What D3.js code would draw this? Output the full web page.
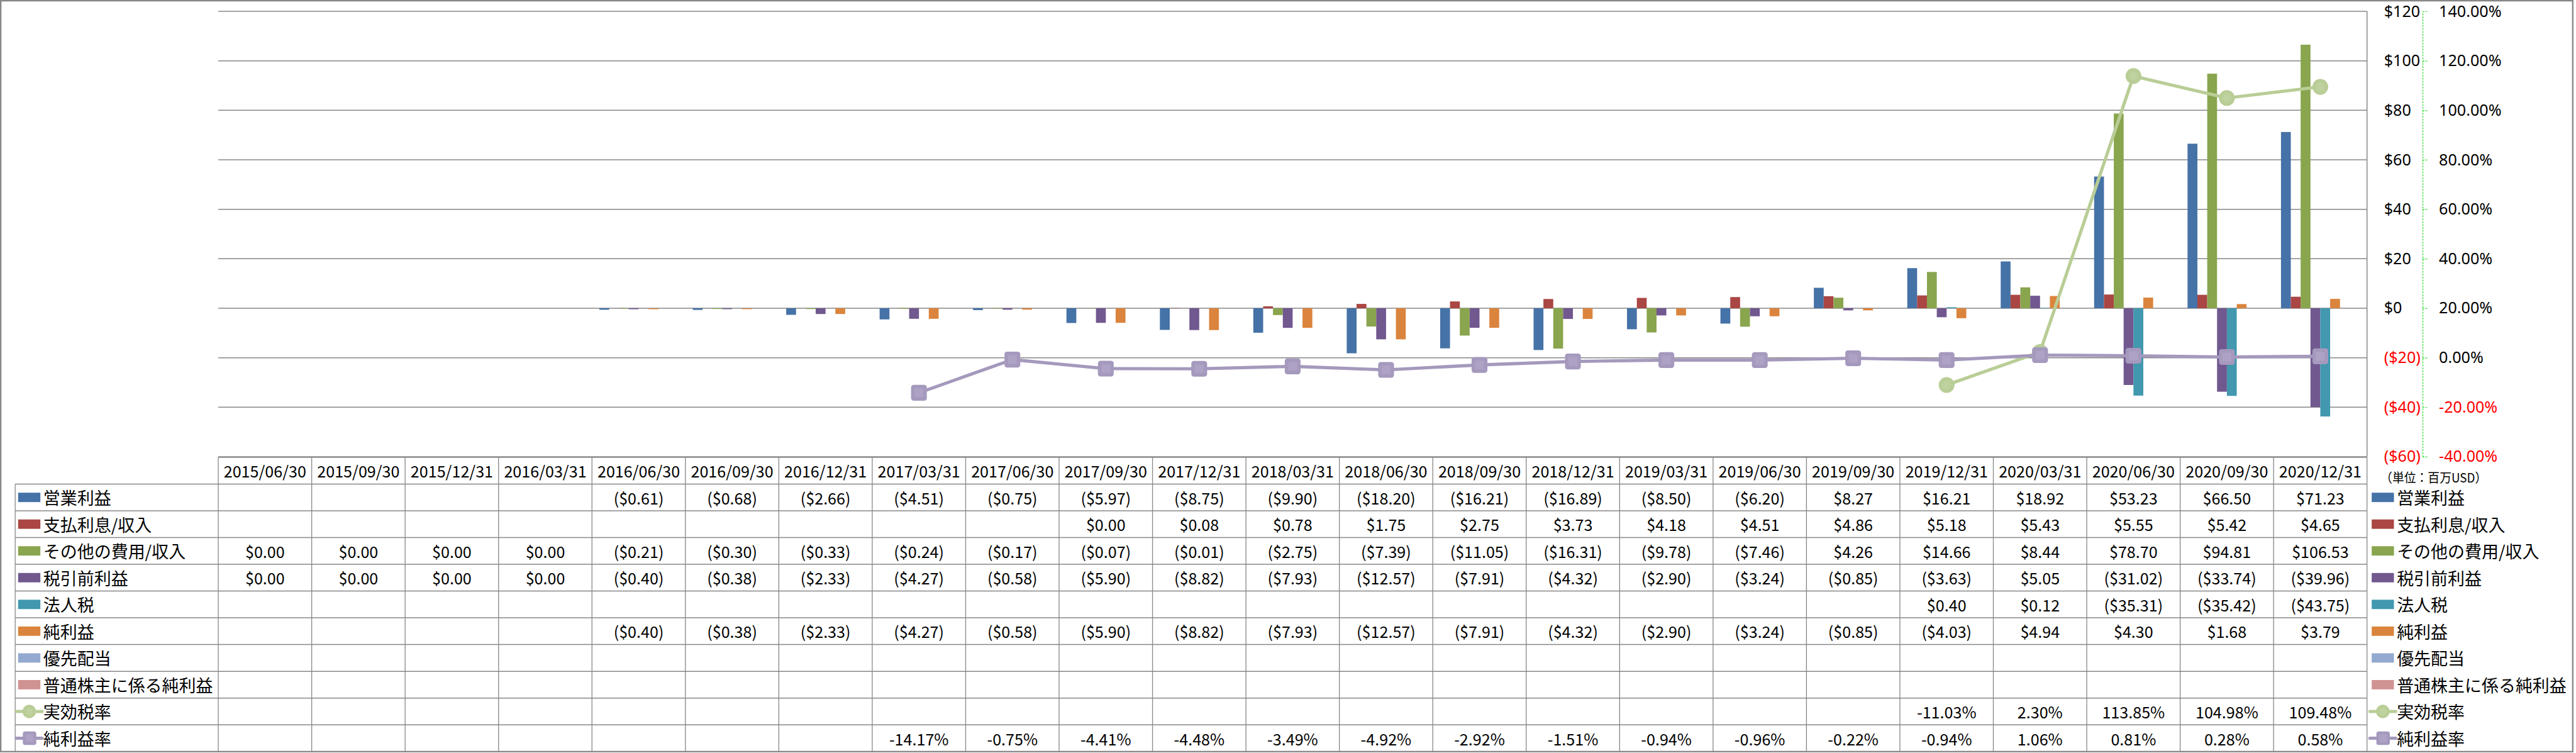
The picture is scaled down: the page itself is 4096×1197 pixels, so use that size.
<!DOCTYPE html>
<html>
<head>
<meta charset="utf-8">
<script src="https://cdn.jsdelivr.net/npm/d3@7"></script>
<style>
  html, body { margin: 0; padding: 0; background: #ffffff; }
  svg { display: block; }
</style>
</head>
<body>
<svg id="chart" width="4096" height="1197"></svg>
<script>
// ---------------- DATA ----------------
const categories = [
  "2015/06/30","2015/09/30","2015/12/31","2016/03/31","2016/06/30","2016/09/30","2016/12/31",
  "2017/03/31","2017/06/30","2017/09/30","2017/12/31","2018/03/31","2018/06/30","2018/09/30",
  "2018/12/31","2019/03/31","2019/06/30","2019/09/30","2019/12/31","2020/03/31","2020/06/30",
  "2020/09/30","2020/12/31"
];

const barSeriesNames = ["営業利益","支払利息/収入","その他の費用/収入","税引前利益","法人税","純利益","優先配当","普通株主に係る純利益"];
const lineSeriesNames = ["実効税率","純利益率"];

const operatingIncome = [null,null,null,null,-0.61,-0.68,-2.66,-4.51,-0.75,-5.97,-8.75,-9.90,-18.20,-16.21,-16.89,-8.50,-6.20,8.27,16.21,18.92,53.23,66.50,71.23];
const interestExpense = [null,null,null,null,null,null,null,null,null,0.00,0.08,0.78,1.75,2.75,3.73,4.18,4.51,4.86,5.18,5.43,5.55,5.42,4.65];
const otherExpense    = [0.00,0.00,0.00,0.00,-0.21,-0.30,-0.33,-0.24,-0.17,-0.07,-0.01,-2.75,-7.39,-11.05,-16.31,-9.78,-7.46,4.26,14.66,8.44,78.70,94.81,106.53];
const pretaxIncome    = [0.00,0.00,0.00,0.00,-0.40,-0.38,-2.33,-4.27,-0.58,-5.90,-8.82,-7.93,-12.57,-7.91,-4.32,-2.90,-3.24,-0.85,-3.63,5.05,-31.02,-33.74,-39.96];
const incomeTax       = [null,null,null,null,null,null,null,null,null,null,null,null,null,null,null,null,null,null,0.40,0.12,-35.31,-35.42,-43.75];
const netIncome       = [null,null,null,null,-0.40,-0.38,-2.33,-4.27,-0.58,-5.90,-8.82,-7.93,-12.57,-7.91,-4.32,-2.90,-3.24,-0.85,-4.03,4.94,4.30,1.68,3.79];
const preferredDiv    = [null,null,null,null,null,null,null,null,null,null,null,null,null,null,null,null,null,null,null,null,null,null,null];
const netToCommon     = [null,null,null,null,null,null,null,null,null,null,null,null,null,null,null,null,null,null,null,null,null,null,null];

const effectiveTaxRate = [null,null,null,null,null,null,null,null,null,null,null,null,null,null,null,null,null,null,-11.03,2.30,113.85,104.98,109.48];
const netMargin        = [null,null,null,null,null,null,null,-14.17,-0.75,-4.41,-4.48,-3.49,-4.92,-2.92,-1.51,-0.94,-0.96,-0.22,-0.94,1.06,0.81,0.28,0.58];

const dollarTicks = [-60,-40,-20,0,20,40,60,80,100,120];
const pctTicks    = [-40,-20,0,20,40,60,80,100,120,140];
const unitLabel   = "（単位：百万USD）";

const barColors  = ["#4572A7","#AA4643","#89A54E","#71588F","#4198AF","#DB843D","#93A9CF","#D19392"];
const lineColors = ["#B9CD96","#A599BD"];
const lineInner  = ["#BFD2A0","#AEA2C5"];

const barData  = [operatingIncome, interestExpense, otherExpense, pretaxIncome, incomeTax, netIncome, preferredDiv, netToCommon];
const lineData = [effectiveTaxRate, netMargin];

// ---------------- LAYOUT (reference units, scaled by 0.93) ----------------
const S = 0.93;
const W = 4400, H = 1286;
const plotL = 373.2, plotR = 4047, plotT = 19.4, plotB = 780.6;
const tableTop = 781.7, headerH = 45.6, rowH = 45.74;
const labelColL = 26;
const gridColor = "#878787";
const fontCJK = "'Noto Sans CJK JP', 'Noto Sans', sans-serif";
const fontAxis = "'Noto Sans', 'DejaVu Sans', sans-serif";
const cellFont = 27, labelFont = 29, axisFont = 27;

const svg = d3.select("#chart");
svg.append("rect").attr("width", 4096).attr("height", 1197).attr("fill", "#fff");
const root = svg.append("g").attr("transform", `scale(${S})`);

// outer border
root.append("rect").attr("x", 1.25).attr("y", 1.25).attr("width", W - 2.5).attr("height", H - 2.5)
  .attr("fill", "#fff").attr("stroke", gridColor).attr("stroke-width", 2.5);

// scales
const x = d3.scaleBand().domain(categories).range([plotL, plotR]).paddingInner(0).paddingOuter(0);
const band = x.bandwidth();
const barW = band / (barSeriesNames.length + 1.5);
const gapOff = band * 0.75 / (barSeriesNames.length + 1.5);
const xs = d3.scaleBand().domain(barSeriesNames).range([gapOff, gapOff + barW * barSeriesNames.length]);
const y  = d3.scaleLinear().domain([-60, 120]).range([plotB, plotT]);
const y2 = d3.scaleLinear().domain([-40, 140]).range([plotB, plotT]);

// gridlines
root.append("g").selectAll("line").data(dollarTicks).join("line")
  .attr("x1", plotL).attr("x2", plotR)
  .attr("y1", d => y(d)).attr("y2", d => y(d))
  .attr("stroke", gridColor).attr("stroke-width", 1.6);
// plot right border
root.append("line").attr("x1", plotR).attr("x2", plotR).attr("y1", plotT).attr("y2", plotB)
  .attr("stroke", gridColor).attr("stroke-width", 1.6);

// bars
const barG = root.append("g");
barData.forEach((vals, i) => {
  barG.append("g").selectAll("rect")
    .data(vals.map((v, j) => ({ v, c: categories[j] })).filter(d => d.v !== null && d.v !== 0))
    .join("rect")
    .attr("x", d => x(d.c) + xs(barSeriesNames[i]))
    .attr("width", xs.bandwidth())
    .attr("y", d => Math.min(y(d.v), y(0)))
    .attr("height", d => Math.abs(y(d.v) - y(0)))
    .attr("fill", barColors[i]);
});

// lines
const lineG = root.append("g");
lineData.forEach((vals, i) => {
  const pts = vals.map((v, j) => ({ v, c: categories[j] }));
  const line = d3.line().defined(d => d.v !== null)
    .x(d => x(d.c) + band / 2).y(d => y2(d.v));
  lineG.append("path").attr("d", line(pts)).attr("fill", "none")
    .attr("stroke", lineColors[i]).attr("stroke-width", 5.5).attr("stroke-linejoin", "round");
  const valid = pts.filter(d => d.v !== null);
  const mg = lineG.append("g");
  if (i === 0) {
    mg.selectAll("circle.o").data(valid).join("circle")
      .attr("cx", d => x(d.c) + band / 2).attr("cy", d => y2(d.v)).attr("r", 13.5)
      .attr("fill", lineColors[i]);
    mg.selectAll("circle.i").data(valid).join("circle")
      .attr("cx", d => x(d.c) + band / 2).attr("cy", d => y2(d.v)).attr("r", 7)
      .attr("fill", lineInner[i]);
  } else {
    mg.selectAll("rect.o").data(valid).join("rect")
      .attr("x", d => x(d.c) + band / 2 - 13.5).attr("y", d => y2(d.v) - 13.5)
      .attr("width", 27).attr("height", 27).attr("rx", 4.5)
      .attr("fill", lineColors[i]);
    mg.selectAll("rect.i").data(valid).join("rect")
      .attr("x", d => x(d.c) + band / 2 - 7.5).attr("y", d => y2(d.v) - 7.5)
      .attr("width", 15).attr("height", 15)
      .attr("fill", lineInner[i]);
  }
});

// primary axis labels (dollars)
const fmtDollar = v => v < 0 ? `($${-v})` : `$${v}`;
const axL = root.append("g").attr("transform", `translate(4073,0)`)
  .call(d3.axisRight(y).tickValues(dollarTicks).tickFormat(fmtDollar).tickSize(0).tickPadding(3));
axL.select(".domain").remove();
axL.selectAll("text").attr("font-family", fontAxis).attr("font-size", axisFont)
  .attr("fill", d => d < 0 ? "#FF0000" : "#000");

// secondary axis (percent)
const fmtPct = v => `${v.toFixed(2)}%`;
const axR = root.append("g").attr("transform", `translate(4142,0)`)
  .call(d3.axisRight(y2).tickValues(pctTicks).tickFormat(fmtPct).tickSizeInner(10).tickSizeOuter(0).tickPadding(18));
axR.select(".domain").attr("stroke", "#22DD22").attr("stroke-width", 1.3).attr("stroke-dasharray", "3,2");
axR.selectAll(".tick line").attr("stroke", "#22DD22").attr("stroke-width", 1.3).attr("stroke-dasharray", "3,2");
axR.selectAll("text").attr("font-family", fontAxis).attr("font-size", axisFont)
  .attr("fill", d => d < 0 ? "#FF0000" : "#000");

// ---------------- DATA TABLE ----------------
const tbl = root.append("g");
const rowNames = barSeriesNames.concat(lineSeriesNames);
const rowVals  = barData.concat(lineData);
const nRows = rowNames.length;
const rowY = i => tableTop + headerH + i * rowH;
const tableBottom = rowY(nRows);

// horizontal lines
tbl.append("line").attr("x1", plotL).attr("x2", plotR).attr("y1", tableTop).attr("y2", tableTop)
  .attr("stroke", gridColor).attr("stroke-width", 1.6);
tbl.append("g").selectAll("line").data(d3.range(nRows + 1)).join("line")
  .attr("x1", labelColL).attr("x2", plotR)
  .attr("y1", d => rowY(d)).attr("y2", d => rowY(d))
  .attr("stroke", gridColor).attr("stroke-width", 1.6);
// vertical lines
tbl.append("g").selectAll("line").data(categories.concat(["__end"])).join("line")
  .attr("x1", d => d === "__end" ? plotR : x(d)).attr("x2", d => d === "__end" ? plotR : x(d))
  .attr("y1", tableTop).attr("y2", tableBottom)
  .attr("stroke", gridColor).attr("stroke-width", 1.4);
tbl.append("line").attr("x1", labelColL).attr("x2", labelColL).attr("y1", rowY(0)).attr("y2", tableBottom)
  .attr("stroke", gridColor).attr("stroke-width", 1.4);

// header
tbl.append("g").selectAll("text").data(categories).join("text")
  .attr("x", d => x(d) + band / 2).attr("y", tableTop + headerH / 2)
  .attr("text-anchor", "middle").attr("dominant-baseline", "central")
  .attr("font-family", fontCJK).attr("font-size", cellFont).attr("fill", "#000")
  .text(d => d);

// cells
const fmtCur = v => v < 0 ? `($${(-v).toFixed(2)})` : `$${v.toFixed(2)}`;
rowVals.forEach((vals, r) => {
  const isPct = r >= barSeriesNames.length;
  tbl.append("g").selectAll("text")
    .data(vals.map((v, j) => ({ v, c: categories[j] })).filter(d => d.v !== null))
    .join("text")
    .attr("x", d => x(d.c) + band / 2).attr("y", rowY(r) + rowH / 2)
    .attr("text-anchor", "middle").attr("dominant-baseline", "central")
    .attr("font-family", fontCJK).attr("font-size", cellFont).attr("fill", "#000")
    .text(d => isPct ? `${d.v.toFixed(2)}%` : fmtCur(d.v));
});

// legend keys (table left column and right legend)
function drawKey(g, i, kx, cy) {
  if (i < barSeriesNames.length) {
    g.append("rect").attr("x", kx).attr("y", cy - 8).attr("width", 38).attr("height", 16)
      .attr("fill", barColors[i]);
  } else {
    const li = i - barSeriesNames.length;
    g.append("line").attr("x1", kx - 3).attr("x2", kx + 41).attr("y1", cy).attr("y2", cy)
      .attr("stroke", lineColors[li]).attr("stroke-width", 5.5).attr("stroke-linecap", "round");
    if (li === 0) {
      g.append("circle").attr("cx", kx + 19).attr("cy", cy).attr("r", 11.5).attr("fill", lineColors[li]);
      g.append("circle").attr("cx", kx + 19).attr("cy", cy).attr("r", 6).attr("fill", lineInner[li]);
    } else {
      g.append("rect").attr("x", kx + 8).attr("y", cy - 11.5).attr("width", 23).attr("height", 23)
        .attr("rx", 4).attr("fill", lineColors[li]);
      g.append("rect").attr("x", kx + 13).attr("y", cy - 6.5).attr("width", 13).attr("height", 13)
        .attr("fill", lineInner[li]);
    }
  }
}
const leg = root.append("g");
rowNames.forEach((name, i) => {
  const cy = rowY(i) + rowH / 2;
  drawKey(leg, i, 31, cy);
  leg.append("text").attr("x", 74).attr("y", cy).attr("dominant-baseline", "central")
    .attr("font-family", fontCJK).attr("font-size", labelFont).attr("fill", "#000").text(name);
  drawKey(leg, i, 4055, cy);
  leg.append("text").attr("x", 4098).attr("y", cy).attr("dominant-baseline", "central")
    .attr("font-family", fontCJK).attr("font-size", labelFont).attr("fill", "#000").text(name);
});

// unit label
root.append("text").attr("x", 4070).attr("y", 815).attr("dominant-baseline", "central")
  .attr("font-family", fontCJK).attr("font-size", 22).attr("fill", "#000")
  .attr("textLength", 182).attr("lengthAdjust", "spacingAndGlyphs").text(unitLabel);
</script>
</body>
</html>
